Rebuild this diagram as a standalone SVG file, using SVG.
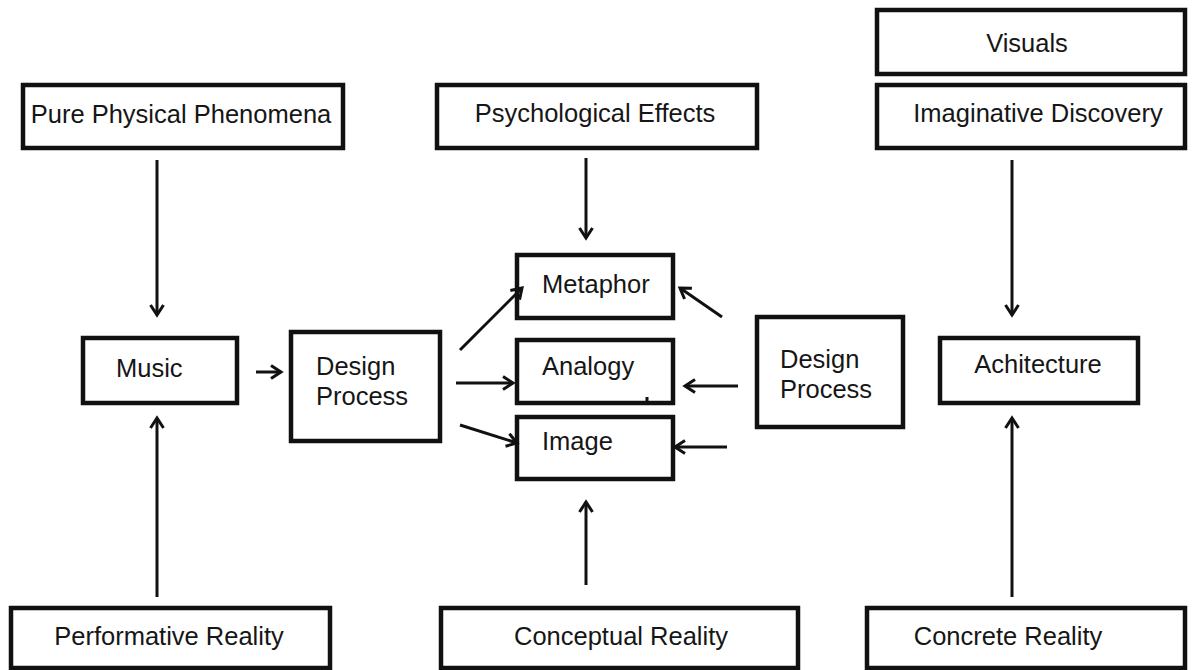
<svg xmlns="http://www.w3.org/2000/svg" width="1192" height="670" viewBox="0 0 1192 670">
<style>
.box{fill:#fff;stroke:#111;stroke-width:4.5}
.t{font-family:"Liberation Sans",Arial,sans-serif;font-size:25.5px;fill:#161616}
.c{text-anchor:middle}
.ln{stroke:#111;stroke-width:3;fill:none;marker-end:url(#ah)}
</style>
<defs>
<marker id="ah" markerUnits="userSpaceOnUse" markerWidth="16" markerHeight="16" refX="12" refY="8" orient="auto">
<path d="M2,1.5 L12,8 L2,14.5" fill="none" stroke="#111" stroke-width="3"/>
</marker>
</defs>
<rect width="1192" height="670" fill="#fff"/>
<g id="visuals"><rect class="box" x="877" y="10" width="308" height="64"/><text class="t c" x="1027" y="52">Visuals</text></g>
<g id="imaginative"><rect class="box" x="877" y="85" width="308" height="63"/><text class="t c" x="1038" y="122">Imaginative Discovery</text></g>
<g id="pure"><rect class="box" x="23" y="85" width="320" height="63"/><text class="t c" x="181" y="123">Pure Physical Phenomena</text></g>
<g id="psych"><rect class="box" x="437" y="85" width="320" height="63"/><text class="t c" x="595" y="122">Psychological Effects</text></g>
<g id="metaphor"><rect class="box" x="517" y="255" width="156" height="63"/><text class="t" x="542" y="293">Metaphor</text></g>
<g id="analogy"><rect class="box" x="517" y="340" width="156" height="63"/><text class="t" x="542" y="375">Analogy</text><line x1="647" y1="397" x2="647" y2="403" stroke="#111" stroke-width="3"/></g>
<g id="image"><rect class="box" x="517" y="417" width="156" height="62"/><text class="t" x="542" y="450">Image</text></g>
<g id="music"><rect class="box" x="83" y="338" width="154" height="65"/><text class="t" x="116" y="377">Music</text></g>
<g id="dp-left"><rect class="box" x="291" y="332" width="149" height="109"/><text class="t" x="316" y="375">Design</text><text class="t" x="316" y="405">Process</text></g>
<g id="dp-right"><rect class="box" x="757" y="317" width="146" height="110"/><text class="t" x="780" y="368">Design</text><text class="t" x="780" y="398">Process</text></g>
<g id="achitecture"><rect class="box" x="940" y="338" width="198" height="65"/><text class="t c" x="1038" y="373">Achitecture</text></g>
<g id="performative"><rect class="box" x="11" y="608" width="319" height="60"/><text class="t c" x="169" y="645">Performative Reality</text></g>
<g id="conceptual"><rect class="box" x="441" y="608" width="357" height="60"/><text class="t c" x="621" y="645">Conceptual Reality</text></g>
<g id="concrete"><rect class="box" x="867" y="608" width="318" height="60"/><text class="t c" x="1008" y="645">Concrete Reality</text></g>
<g id="connectors">
<line class="ln" x1="157" y1="160" x2="157" y2="315"/>
<line class="ln" x1="586" y1="158" x2="586" y2="238"/>
<line class="ln" x1="1012" y1="160" x2="1012" y2="315"/>
<line class="ln" x1="157" y1="597" x2="157" y2="418"/>
<line class="ln" x1="586" y1="585" x2="586" y2="502"/>
<line class="ln" x1="1012" y1="597" x2="1012" y2="418"/>
<line class="ln" x1="256" y1="372" x2="281" y2="372"/>
<line class="ln" x1="460" y1="350" x2="522" y2="288"/>
<line class="ln" x1="456" y1="383" x2="513" y2="383"/>
<line class="ln" x1="460" y1="425" x2="517" y2="443"/>
<line class="ln" x1="722" y1="317" x2="680" y2="288"/>
<line class="ln" x1="738" y1="386" x2="685" y2="386"/>
<line class="ln" x1="727" y1="447" x2="675" y2="447"/>
</g>
</svg>
